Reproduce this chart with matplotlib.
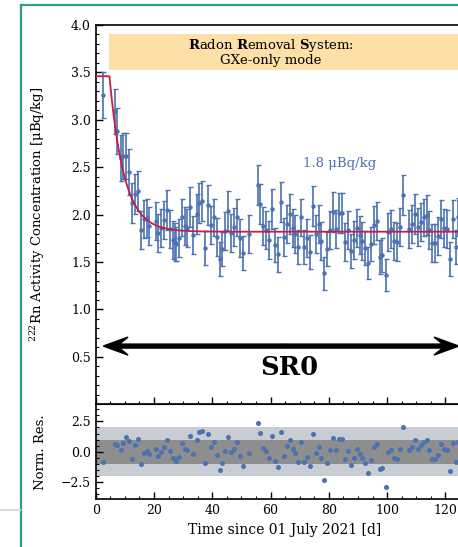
import numpy as np
from matplotlib import pyplot as plt
from matplotlib.lines import Line2D

plt.rcParams['font.family'] = 'DejaVu Serif'
plt.rcParams['mathtext.fontset'] = 'dejavuserif'

# measurement times [d since 01 July 2021]
days = [2.39, 6.51, 7.42, 8.57, 9.48, 10.40, 11.54, 12.57, 13.49, 14.40,
        15.55, 16.58, 17.49, 18.40, 20.58, 21.49, 22.52, 23.55, 24.58, 25.50,
        26.41, 27.10, 27.56, 28.47, 29.62, 30.53, 31.45, 32.36, 33.50, 34.65,
        35.56, 36.48, 37.51, 38.54, 39.57, 40.48, 41.51, 42.54, 43.46, 44.48,
        45.51, 46.54, 47.46, 48.49, 49.52, 50.55, 52.55, 55.59, 56.49, 57.52,
        58.55, 59.57, 60.50, 61.53, 62.46, 63.49, 64.52, 65.55, 66.58, 67.61,
        68.50, 69.53, 70.45, 71.48, 72.51, 73.54, 74.47, 75.50, 76.53, 77.42,
        78.45, 79.48, 80.51, 81.54, 82.57, 83.60, 84.63, 85.55, 86.58, 87.51,
        88.54, 89.57, 90.60, 91.49, 92.52, 93.55, 94.48, 95.50, 96.53, 97.46,
        98.35, 99.52, 100.41, 101.44, 102.47, 103.50, 104.53, 105.56, 107.52, 108.44,
        109.47, 110.50, 111.53, 112.56, 113.59, 114.48, 115.51, 116.54, 117.57, 118.50,
        119.53, 120.56, 121.59, 122.51, 123.54, 124.23]

# 222Rn activity concentration [uBq/kg]
activity = [3.26, 3.09, 2.88, 2.60, 2.62, 2.62, 2.45, 2.12, 2.22, 2.25,
            1.84, 1.95, 1.96, 1.88, 1.93, 1.81, 1.86, 1.94, 2.05, 1.85,
            1.73, 1.71, 1.69, 1.75, 1.97, 1.88, 1.86, 2.08, 1.79, 2.01,
            2.12, 2.14, 1.65, 2.10, 1.89, 1.97, 1.76, 1.53, 1.64, 1.83,
            2.04, 1.81, 1.87, 1.97, 1.75, 1.60, 1.80, 2.31, 2.11, 1.88,
            1.84, 1.73, 2.06, 1.68, 1.58, 2.13, 1.76, 1.90, 2.01, 1.86,
            1.80, 1.66, 1.97, 1.66, 1.75, 1.61, 2.09, 1.80, 1.90, 1.72,
            1.38, 1.64, 1.84, 2.03, 1.85, 2.02, 2.02, 1.71, 1.84, 1.62,
            1.73, 1.86, 1.79, 1.72, 1.65, 1.49, 1.69, 1.89, 1.93, 1.55,
            1.57, 1.36, 1.82, 1.85, 1.72, 1.71, 1.87, 2.21, 1.85, 1.90,
            2.01, 1.87, 1.92, 1.97, 2.00, 1.84, 1.70, 1.70, 1.77, 1.95,
            1.86, 1.85, 1.53, 1.95, 1.66, 1.98]

activity_err = [0.24, 0.24, 0.24, 0.24, 0.24, 0.24, 0.24, 0.21, 0.21, 0.21,
                0.20, 0.20, 0.20, 0.20, 0.20, 0.20, 0.20, 0.20, 0.21, 0.20,
                0.20, 0.20, 0.18, 0.20, 0.20, 0.20, 0.20, 0.21, 0.20, 0.21,
                0.21, 0.21, 0.18, 0.21, 0.20, 0.20, 0.20, 0.18, 0.18, 0.20,
                0.21, 0.20, 0.20, 0.20, 0.20, 0.18, 0.20, 0.21, 0.21, 0.20,
                0.20, 0.20, 0.21, 0.18, 0.18, 0.21, 0.20, 0.20, 0.21, 0.20,
                0.20, 0.18, 0.20, 0.18, 0.20, 0.18, 0.21, 0.20, 0.20, 0.20,
                0.17, 0.18, 0.20, 0.21, 0.20, 0.21, 0.21, 0.20, 0.20, 0.18,
                0.20, 0.20, 0.20, 0.20, 0.18, 0.17, 0.18, 0.20, 0.20, 0.18,
                0.18, 0.17, 0.20, 0.20, 0.20, 0.20, 0.20, 0.21, 0.20, 0.20,
                0.21, 0.20, 0.20, 0.20, 0.21, 0.20, 0.20, 0.20, 0.20, 0.20,
                0.20, 0.20, 0.18, 0.20, 0.18, 0.20]

# normalised residuals
norm_res = [-0.83, 0.63, 0.55, 0.11, 0.72, 1.24, 0.88, -0.58, 0.52, 1.05,
            -0.99, -0.11, 0.08, -0.22, 0.22, -0.33, -0.03, 0.39, 0.99, 0.03,
            -0.55, -0.63, -0.72, -0.41, 0.69, 0.25, 0.17, 1.29, -0.14, 0.99,
            1.60, 1.68, -0.91, 1.46, 0.36, 0.80, -0.30, -1.51, -0.93, 0.03,
            1.18, -0.03, 0.25, 0.77, -0.36, -1.18, -0.11, 2.37, 1.51, 0.33,
            0.08, -0.47, 1.27, -0.74, -1.27, 1.62, -0.33, 0.44, 0.99, 0.19,
            -0.08, -0.85, 0.80, -0.85, -0.39, -1.13, 1.43, -0.08, 0.41, -0.55,
            -2.34, -0.96, 0.11, 1.13, 0.17, 1.05, 1.05, -0.60, 0.08, -1.05,
            -0.47, 0.19, -0.17, -0.52, -0.88, -1.73, -0.66, 0.36, 0.60, -1.40,
            -1.29, -2.86, 0.00, 0.17, -0.55, -0.60, 0.25, 2.06, 0.17, 0.41,
            0.99, 0.27, 0.52, 0.77, 0.96, 0.11, -0.63, -0.63, -0.25, 0.66,
            0.19, 0.17, -1.54, 0.69, -0.83, 0.83]

# fit parameters: flat start, then exponential removal down to plateau
fit_start = 3.46
fit_plateau = 1.82
fit_t0 = 4.7
fit_tau = 5.0

blue = '#4c72b0'
red = '#c41e48'

fig = plt.figure(figsize=(4.58, 5.47), dpi=100)
ax = fig.add_axes([0.209, 0.2609, 0.827, 0.6934])
axr = fig.add_axes([0.209, 0.0872, 0.827, 0.1737], sharex=ax)

# data with error bars
ax.errorbar(days, activity, yerr=activity_err, fmt='o', color=blue, ms=2.2,
            elinewidth=1.2, capsize=1.8, capthick=1.0, zorder=3)

# fit curve
t_fit = np.linspace(0, 135, 1000)
y_fit = np.where(t_fit < fit_t0, fit_start,
                 fit_plateau + (fit_start - fit_plateau) * np.exp(-(t_fit - fit_t0) / fit_tau))
ax.plot(t_fit, y_fit, color=red, lw=1.3, zorder=4)

# RRS box
ax.fill_between([4.6, 140], 3.525, 3.905, color='#fde0a8', lw=0, zorder=1)
ax.text(60.2, 3.715, r'$\mathbf{R}$adon $\mathbf{R}$emoval $\mathbf{S}$ystem:' + '\nGXe-only mode',
        ha='center', va='center', fontsize=9.5, linespacing=1.0, zorder=2)

ax.text(83.8, 2.54, '1.8 μBq/kg', color=blue, fontsize=9.5, ha='center', va='center')

# SR0 arrow
mid = 64.0
for tip in [2.6, 124.6]:
    ax.arrow(mid, 0.614, tip - mid, 0, width=0.042, head_width=0.19, head_length=8.5,
             overhang=0.35, length_includes_head=True, color='black', zorder=3)
ax.text(66.6, 0.39, 'SR0', fontsize=18.5, fontweight='bold', ha='center', va='center')

ax.set_xlim(0, 130)
ax.set_ylim(0, 4.0)
ax.set_yticks(np.arange(0.5, 4.01, 0.5))
ax.set_yticks(np.arange(0, 4.01, 0.1), minor=True)
ax.set_ylabel(r'$^{222}$Rn Activity Concentration [μBq/kg]', fontsize=9.5)
ax.yaxis.set_label_coords(-0.128, 0.5)
ax.tick_params(axis='x', labelbottom=False)

# residuals
axr.axhspan(-2, 2, color='#c8ccd3', lw=0, zorder=0)
axr.axhspan(-1, 1, color='#8e8e8e', lw=0, zorder=1)
axr.plot(days, norm_res, 'o', color=blue, ms=2.6, zorder=3)
axr.set_ylim(-3.9, 3.9)
axr.set_yticks([-2.5, 0.0, 2.5])
axr.set_yticks(np.arange(-3.5, 3.9, 0.5), minor=True)
axr.set_xticks(np.arange(0, 131, 20))
axr.set_xticks(np.arange(0, 131, 5), minor=True)
axr.set_ylabel('Norm. Res.', fontsize=9.5)
axr.yaxis.set_label_coords(-0.128, 0.5)
axr.set_xlabel('Time since 01 July 2021 [d]', fontsize=10)

for a in [ax, axr]:
    a.tick_params(which='both', direction='in', top=False, right=False, labelsize=9)
    a.tick_params(which='major', length=5, width=1)
    a.tick_params(which='minor', length=2.5, width=0.8)
    for s in a.spines.values():
        s.set_linewidth(1.2)
axr.spines['top'].set_linewidth(0.8)

# slide frame around the figure
fig.add_artist(Line2D([21 / 458, 21 / 458], [0, 1 - 5 / 547], transform=fig.transFigure,
                      color='#2aa08c', lw=1.6))
fig.add_artist(Line2D([21 / 458, 1], [1 - 5 / 547, 1 - 5 / 547], transform=fig.transFigure,
                      color='#2aa08c', lw=1.6))
fig.add_artist(Line2D([0, 20 / 458], [1 - 510 / 547, 1 - 510 / 547], transform=fig.transFigure,
                      color='#dcdcdc', lw=1.5))

fig.savefig('out.png', dpi=100)
